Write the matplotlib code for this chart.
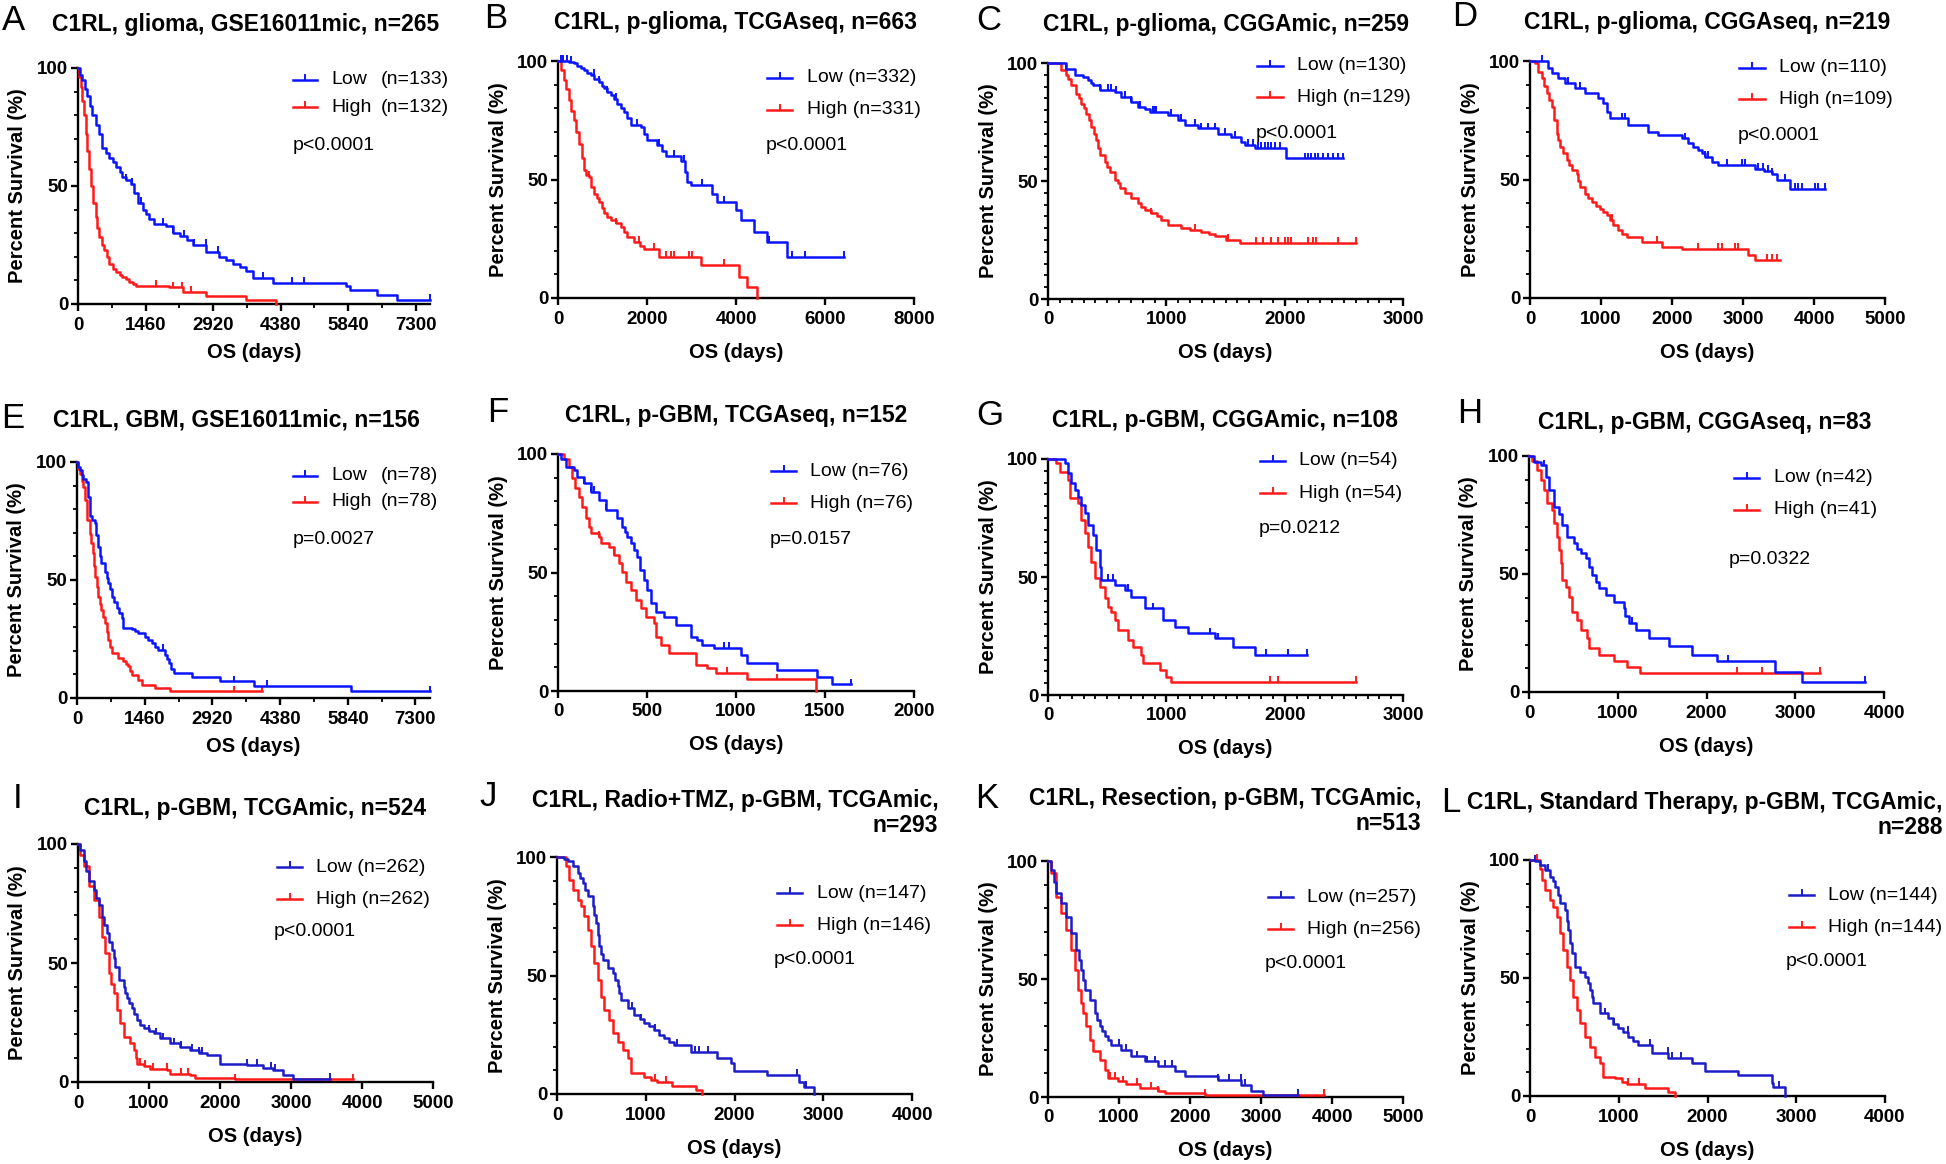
import matplotlib.pyplot as plt
import numpy as np

plt.rcParams['font.family'] = ['Liberation Sans', 'DejaVu Sans']

W, H = 1946, 1164

# ---- Kaplan-Meier curves: (days, percent surviving after that day) ----
a_low = [(0,100),(40,97),(94,95),(150,91),(200,88),(260,84),(311,80),(380,76),(455,72),(528,66),(600,64),(672,62),(750,60),(817,58),(900,56),(962,54),(1034,52.5),(1150,51),(1215,47),(1287,43),(1395,40),(1480,38),(1540,36),(1650,34),(1900,33),(2046,30),(2200,29),(2350,27),(2480,25),(2770,22),(3058,20),(3200,18.5),(3347,17),(3500,15.5),(3637,14),(3781,11),(4215,9),(5800,7.5),(5880,6),(6456,4),(6890,1.7),(7613,1.7)]
a_low_cens = [1034,1178,1360,1829,2046,2299,2516,2769,3022,3998,4634,4887,7613]
a_high = [(0,100),(30,96),(58,92),(95,86),(130,80),(165,72),(202,65),(240,57),(275,50),(330,43),(383,37),(420,32),(455,28.6),(510,25),(564,23),(620,20),(672,17),(750,15),(817,13.7),(900,12.5),(962,11.5),(1030,10.5),(1106,9.5),(1180,8.5),(1251,7.6),(1974,7),(2263,5.2),(2769,3.5),(3637,1.7),(4287,0)]
a_high_cens = [1685,2046,2241,2444]

b_low = [(0,100),(250,99.5),(350,99),(434,98),(520,97),(584,96),(650,95),(734,94),(820,92.5),(921,91),(980,89.5),(1034,88.5),(1100,87),(1183,85.6),(1260,84),(1333,82),(1410,80),(1483,78.6),(1560,76),(1633,73),(1858,72),(1930,69),(2007,66.6),(2232,64.5),(2330,62),(2419,60),(2756,58),(2850,53),(2906,49),(2981,47.6),(3468,44),(3580,40.6),(3992,37),(4104,32.8),(4404,27.9),(4704,23.7),(5153,17.3),(6426,17.3)]
b_low_cens = [60,120,200,300,809,921,1108,1296,1783,2277,2606,2831,3243,3730,4741,5266,5550,6426]
b_high = [(0,100),(60,96),(135,92),(190,88),(247,83.5),(300,79),(360,75),(415,70),(472,65),(530,59),(584,54),(640,52),(697,51),(750,47),(809,44),(870,42),(921,40.6),(980,38),(1034,36),(1110,34),(1183,32.8),(1300,31.5),(1408,30),(1480,28),(1558,25.8),(1708,23.7),(1850,22),(1932,20.8),(2269,17.3),(3206,13.8),(4067,8.9),(4254,4.6),(4464,0)]
b_high_cens = [700,1300,1820,2157,2419,2531,2606,2944,3018,3730]

c_low = [(0,100),(155,97.5),(225,95),(296,94),(338,92.7),(360,91.5),(380,90.6),(437,88.5),(563,87.7),(620,85.6),(704,83.5),(760,81.4),(817,80.7),(859,79.3),(1014,77.9),(1099,75.8),(1155,73.7),(1268,72.3),(1437,70.1),(1549,68.7),(1634,66.6),(1662,65.2),(1747,64),(2014,59.6),(2493,59.6)]
c_low_cens = [155,437,507,535,577,648,704,775,887,901,915,1042,1127,1240,1296,1352,1408,1493,1577,1690,1732,1775,1803,1831,1859,1887,1915,1958,2169,2197,2225,2254,2282,2324,2366,2409,2451,2493]
c_high = [(0,100),(113,97),(150,95),(169,93.4),(197,90.6),(239,87),(260,85),(282,82.8),(300,81),(324,78.6),(345,76),(366,73),(388,70),(408,67.3),(420,64),(437,61),(479,58.2),(500,56),(521,54),(563,50.6),(590,49),(606,47),(650,45),(704,42.8),(760,40.6),(790,39),(817,37.7),(873,36.3),(920,35),(958,33.5),(1014,31.4),(1127,30),(1200,29.3),(1296,28.6),(1360,27.5),(1408,26.5),(1500,25),(1620,23.7),(2606,23.7)]
c_high_cens = [873,1240,1521,1761,1817,1887,1944,2000,2028,2056,2197,2240,2268,2451,2606]

d_low = [(0,100),(258,97),(305,94.8),(399,92.7),(493,90.6),(634,88.5),(775,86.3),(962,84.2),(1033,82.1),(1080,78.6),(1127,75.8),(1385,73),(1667,70.1),(1808,68.7),(2136,67.3),(2230,65.2),(2300,63.8),(2371,62.4),(2420,61),(2465,59.6),(2559,57.5),(2653,56),(3169,54.6),(3300,53.5),(3404,52.5),(3474,49.7),(3662,46.2),(4155,46.2)]
d_low_cens = [164,540,704,1291,1338,2183,2465,2512,2770,2981,3028,3216,3286,3357,3404,3592,3733,3780,3827,4014,4061,4155]
d_high = [(0,100),(70,99),(117,95.5),(164,92.7),(200,89.5),(235,86.3),(270,83.5),(305,80.7),(340,75),(376,69.4),(400,66.5),(423,63.8),(470,61),(516,58.2),(550,56),(587,54),(657,52.5),(680,49.5),(704,46.9),(775,44),(820,42.3),(869,40.6),(930,39),(986,37.7),(1030,36.3),(1080,34.9),(1120,32.8),(1174,30.7),(1244,28.6),(1300,27.2),(1362,25.8),(1573,23.7),(1855,21.5),(2136,20.8),(3075,18),(3169,15.9),(3521,15.9)]
d_high_cens = [1150,1784,2371,2653,2700,2887,2934,3333,3404,3474]

e_low = [(0,100),(30,98),(58,96.5),(100,94.5),(130,93),(202,91.5),(240,85),(275,77),(330,75.4),(383,74),(420,69),(455,64),(490,60),(528,57),(600,53.5),(640,51),(672,48.6),(710,46),(745,43),(800,40.5),(853,38),(900,36),(962,33.8),(998,29.6),(1178,29.2),(1250,28.5),(1323,27.5),(1468,26),(1540,24.5),(1612,23.2),(1690,21.8),(1757,20.4),(1901,18.3),(1940,16.5),(1974,14.8),(2030,12.5),(2082,10.6),(2480,8.9),(3094,7),(3817,5.2),(5914,2.8),(7613,2.8)]
e_low_cens = [1865,3384,4107,7613]
e_high = [(0,100),(30,97),(58,95),(100,92),(130,89.4),(181,83.8),(224,75.4),(275,69.7),(310,65.5),(347,61.3),(370,56),(398,51.4),(430,47),(455,43),(490,40),(528,37.3),(565,34.5),(600,31.7),(640,28),(672,24.6),(710,21.5),(745,19),(889,16.9),(998,15.5),(1050,14.5),(1106,13.4),(1140,11.5),(1178,9.9),(1323,7.7),(1395,5.6),(1685,4.2),(2010,2.8),(3998,2.8)]
e_high_cens = [3384,3998]

f_low = [(0,100),(15,98),(43,94.7),(90,93.2),(109,90.4),(146,87.6),(184,84),(230,80.6),(268,76.4),(333,72.9),(361,69.3),(375,67),(390,65.1),(408,62.3),(427,59.5),(446,56.7),(461,51),(483,46.8),(502,42.6),(521,37),(549,33.5),(596,31.4),(661,27.8),(745,22.9),(783,21.5),(811,19.4),(877,18),(1026,15.2),(1064,11.7),(1232,8.9),(1457,6),(1541,2.8),(1644,2.8)]
f_low_cens = [146,184,202,268,933,961,1644]
f_high = [(0,100),(34,98),(62,94.7),(80,89.7),(94,85.5),(118,82),(137,77.8),(155,72.9),(174,69.3),(184,66.5),(230,65.1),(240,62.3),(287,60.9),(315,57.4),(343,53.9),(361,50.4),(380,46.1),(408,42.6),(436,38.4),(464,34.9),(493,31.4),(539,28.6),(549,22.9),(577,19.4),(624,15.9),(774,11),(839,9.6),(886,7.7),(1064,4.9),(1448,0)]
f_high_cens = [230,315,951,1229]

g_low = [(0,100),(141,98.2),(169,93.9),(197,89.7),(225,86.9),(254,84),(282,80.5),(310,77),(338,72),(380,67.8),(408,61.4),(437,54.4),(451,48.7),(563,46.6),(648,44.5),(704,41.7),(817,36.7),(972,31.8),(1070,29),(1183,26.1),(1408,24),(1563,20.5),(1747,16.9),(2192,16.9)]
g_low_cens = [507,549,676,887,1372,1437,1845,2028,2192]
g_high = [(0,100),(70,98.5),(99,94.6),(169,91),(183,83.3),(254,81.2),(282,74),(310,68.5),(338,62.8),(366,56.5),(394,49.4),(437,45.9),(479,41),(507,37.4),(535,35),(563,31.8),(592,27.5),(676,23.3),(718,20.5),(789,16.9),(803,13.4),(944,10.6),(1000,7.8),(1042,5.6),(2606,5.6)]
g_high_cens = [1873,1944,2606]

h_low = [(0,100),(56,97.5),(131,96),(187,91.1),(225,85.5),(281,78.5),(337,75.6),(375,70.7),(431,65.8),(506,63),(544,60.8),(581,58.7),(637,56.6),(675,53.1),(712,49.6),(750,46.8),(787,43.9),(862,41.1),(956,38.3),(1068,35.5),(1087,32),(1125,29.1),(1200,26.3),(1350,22.8),(1575,19.3),(1837,15.8),(2118,13),(2774,8.3),(3074,4.1),(3787,4.1)]
h_low_cens = [169,1162,2242,3787]
h_high = [(0,100),(37,98),(94,94),(131,89.7),(169,85.5),(206,79.9),(262,77),(281,71.4),(319,65.8),(337,60.1),(356,54.5),(375,47.5),(412,44.6),(450,40.4),(487,34.1),(544,30.6),(581,26.3),(656,22.8),(675,18.6),(787,15.8),(956,13),(1106,10.8),(1256,8),(3280,8)]
h_high_cens = [2343,2624,3280]

i_low = [(0,100),(33,97.6),(80,92.7),(110,88.5),(150,84.3),(220,80.8),(260,77.5),(291,74.4),(337,69.5),(370,66),(408,62.5),(440,59),(478,55.5),(500,52),(525,48.5),(572,42.8),(642,40),(665,37.5),(689,35.1),(720,33),(759,30.9),(790,28.5),(829,26),(870,24),(923,22.5),(1000,21.5),(1064,20.4),(1157,18.3),(1298,16.2),(1439,14.7),(1579,13.3),(1700,12.3),(1813,11.2),(2001,7.7),(2376,7),(2600,6),(2751,4.9),(2891,2.8),(3032,1.4),(3547,1.4)]
i_low_cens = [1000,1100,1200,1350,1450,1600,1700,1750,2376,2520,2720,2780,3547]
i_high = [(0,100),(33,95.5),(80,90.6),(150,82.2),(220,76.5),(291,69.5),(337,61.1),(384,54),(431,45.6),(465,41),(501,37.2),(548,30.2),(595,24.6),(642,19),(736,16.2),(783,13.3),(810,10),(829,7.7),(923,6.6),(1017,5.6),(1251,4.9),(1298,3.5),(1579,2.8),(1650,1.7),(2212,1.1),(3875,1.1)]
i_high_cens = [870,950,1060,1250,1450,1550,2212,3875]

j_low = [(0,100),(82,99),(120,98.2),(176,96),(232,93.2),(260,91),(289,89),(320,86),(345,83.4),(401,79.2),(420,75.5),(439,72.1),(460,67),(476,62.3),(495,59),(514,56.6),(570,53.1),(626,51),(655,48),(682,45.4),(700,42.5),(720,39.7),(795,36.2),(870,33.4),(930,31.5),(982,29.9),(1040,28.5),(1095,27),(1150,25),(1207,23.5),(1260,22),(1320,20.7),(1507,17.9),(1807,15.1),(1957,13),(1994,9.9),(2369,8),(2726,5.2),(2782,3.1),(2894,0)]
j_low_cens = [850,950,1100,1350,1550,1600,1700,2700,2800]
j_high = [(0,100),(101,96),(139,90.4),(176,86.2),(232,82),(270,79.2),(307,74.9),(345,69.3),(382,62.3),(420,55.2),(457,48.2),(495,41.1),(532,35.5),(589,31.3),(626,25.6),(682,22.1),(739,18.6),(795,15.1),(832,8.7),(982,7.3),(1057,5.9),(1132,5.2),(1301,3.4),(1563,1.7),(1638,0)]
j_high_cens = [1100,1230]

k_low = [(0,100),(47,96.2),(80,91),(117,86.3),(188,82.1),(258,76.4),(329,69.4),(399,62.3),(440,58),(470,53.9),(495,49.5),(516,45.4),(587,41.2),(657,35.5),(690,32.5),(728,29.9),(760,27.8),(798,25.7),(840,24),(892,22.1),(1033,20),(1174,17.2),(1362,15.1),(1549,13),(1784,10.9),(1925,8.7),(2394,7.3),(2723,5.2),(2864,2.4),(3028,1),(3521,1)]
k_low_cens = [1000,1100,1250,1400,1500,1650,1750,2394,2550,2720,2780,3521]
k_high = [(0,100),(47,94.8),(117,84.9),(188,77.9),(258,70.8),(329,62.3),(376,53.9),(423,45.4),(460,40),(493,35.5),(540,29.9),(587,24.3),(634,19.3),(728,15.8),(798,11.6),(845,8),(986,6.6),(1103,5.6),(1291,3.8),(1549,2.4),(1643,1.7),(2207,1),(3887,1)]
k_high_cens = [870,950,1050,1250,1450,1550,2207,3887]

l_low = [(0,100),(60,99.5),(113,97.9),(169,95.8),(225,92.9),(255,91),(282,88.7),(310,85),(338,81.6),(394,78.8),(415,74),(432,70.3),(450,65),(470,60.5),(507,54.8),(563,52.7),(620,50.6),(650,48),(676,44.9),(695,42),(714,39.3),(789,35),(883,32.9),(940,30.5),(995,28.7),(1050,27),(1108,25.1),(1160,23.2),(1221,21.6),(1371,18.1),(1559,16),(1822,13.8),(1972,10.7),(2347,8.9),(2723,5.4),(2742,4),(2873,0)]
l_low_cens = [60,200,850,950,1100,1350,1550,1600,1700,2800]
l_high = [(0,100),(113,96),(131,91.5),(169,87.3),(225,83),(263,80.2),(300,76),(338,68.9),(376,61.9),(413,54.8),(451,49.2),(488,42.1),(526,36.4),(563,30.8),(620,25.1),(676,20.9),(732,16.7),(789,13.8),(826,8.2),(958,7.5),(1033,6.1),(1089,5.1),(1296,3.2),(1559,1.8),(1634,0)]
l_high_cens = [80,1100,1230]

# ---- panel text ----
letters = list("ABCDEFGHIJKL")
titles = [
    "C1RL, glioma, GSE16011mic, n=265",
    "C1RL, p-glioma, TCGAseq, n=663",
    "C1RL, p-glioma, CGGAmic, n=259",
    "C1RL, p-glioma, CGGAseq, n=219",
    "C1RL, GBM, GSE16011mic, n=156",
    "C1RL, p-GBM, TCGAseq, n=152",
    "C1RL, p-GBM, CGGAmic, n=108",
    "C1RL, p-GBM, CGGAseq, n=83",
    "C1RL, p-GBM, TCGAmic, n=524",
    "C1RL, Radio+TMZ, p-GBM, TCGAmic,\nn=293",
    "C1RL, Resection, p-GBM, TCGAmic,\nn=513",
    "C1RL, Standard Therapy, p-GBM, TCGAmic,\nn=288",
]
low_n = [133, 332, 130, 110, 78, 76, 54, 42, 262, 147, 257, 144]
high_n = [132, 331, 129, 109, 78, 76, 54, 41, 262, 146, 256, 144]
p_text = ["p<0.0001", "p<0.0001", "p<0.0001", "p<0.0001", "p=0.0027", "p=0.0157",
          "p=0.0212", "p=0.0322", "p<0.0001", "p<0.0001", "p<0.0001", "p<0.0001"]

low_curves = [a_low, b_low, c_low, d_low, e_low, f_low, g_low, h_low, i_low, j_low, k_low, l_low]
low_cens = [a_low_cens, b_low_cens, c_low_cens, d_low_cens, e_low_cens, f_low_cens,
            g_low_cens, h_low_cens, i_low_cens, j_low_cens, k_low_cens, l_low_cens]
high_curves = [a_high, b_high, c_high, d_high, e_high, f_high, g_high, h_high, i_high, j_high, k_high, l_high]
high_cens = [a_high_cens, b_high_cens, c_high_cens, d_high_cens, e_high_cens, f_high_cens,
             g_high_cens, h_high_cens, i_high_cens, j_high_cens, k_high_cens, l_high_cens]

# ---- axes settings ----
xmax = [7613, 8000, 3000, 5000, 7613, 2000, 3000, 4000, 5000, 4000, 5000, 4000]
xstep = [1460, 2000, 1000, 1000, 1460, 500, 1000, 1000, 1000, 1000, 1000, 1000]
xminor = [730, None, 100, None, 730, None, 100, None, None, None, None, None]
yminor = [10, 10, 5, 10, 10, 10, 5, 10, 10, 10, 10, 10]

# layout in pixels: axes box (left, top, right, bottom)
boxes = [(78, 68, 430, 304), (558, 61, 914, 298), (1048, 63, 1403, 299), (1530, 61, 1885, 298),
         (77, 462, 430, 698), (558, 454, 914, 691), (1048, 459, 1403, 695), (1529, 456, 1884, 692),
         (78, 844, 433, 1082), (557, 857, 912, 1094), (1048, 861, 1403, 1097), (1530, 860, 1885, 1096)]
title_pos = [(246, 25), (736, 23), (1226, 25), (1707, 23), (236, 420), (736, 415), (1225, 420),
             (1705, 422), (255, 808), (735, 813), (1225, 811), (1705, 815)]
letter_pos = [(2, 20), (484, 18), (976, 20), (1452, 17), (1, 418), (487, 412), (976, 415),
              (1457, 413), (13, 798), (479, 797), (975, 798), (1441, 803)]
# legend: handle x0, x1, row1 y, row2 y, text x, p x, p y, count x
legends = [(293, 317, 80, 107, 331, 293, 146, 381), (767, 792, 78, 110, 807, 766, 146, None),
           (1257, 1283, 66, 97, 1297, 1256, 133, None), (1739, 1765, 68, 99, 1779, 1738, 136, None),
           (293, 317, 476, 502, 331, 293, 539, 381), (771, 796, 471, 503, 810, 770, 539, None),
           (1260, 1285, 461, 493, 1299, 1259, 529, None), (1734, 1759, 478, 510, 1774, 1729, 559, None),
           (277, 302, 867, 899, 316, 274, 932, None), (777, 802, 893, 925, 817, 774, 960, None),
           (1268, 1293, 897, 929, 1307, 1265, 963, None), (1789, 1814, 895, 927, 1828, 1786, 962, None)]

BLUE = "#0a14ff"
DARK_BLUE = "#1c1cc8"
RED = "#ff1a1a"
blues = [BLUE] * 8 + [DARK_BLUE] * 4


def fx(x):
    return x / W


def fy(y):
    return 1 - y / H


def draw_curve(ax, curve, cens, color):
    t = np.array([p[0] for p in curve], dtype=float)
    s = np.array([p[1] for p in curve], dtype=float)
    ax.step(t, s, where="post", color=color, lw=1.8, clip_on=False, zorder=3)
    ct = np.array(cens, dtype=float)
    cs = s[np.searchsorted(t, ct, side="right") - 1]
    ax.plot(ct, cs + 1.2, ls="none", marker="|", ms=5, mew=1.4, color=color, clip_on=False, zorder=3)


fig = plt.figure(figsize=(W / 100, H / 100), dpi=100)

for i in range(12):
    L, T, R, B = boxes[i]
    ax = fig.add_axes([fx(L), fy(B), (R - L) / W, (B - T) / H])
    draw_curve(ax, high_curves[i], high_cens[i], RED)
    draw_curve(ax, low_curves[i], low_cens[i], blues[i])

    ax.set_xlim(0, xmax[i])
    ax.set_ylim(0, 100)
    ax.set_xticks(np.arange(0, xmax[i] + 1, xstep[i]))
    if xminor[i]:
        ax.set_xticks(np.arange(0, xmax[i] + 1, xminor[i]), minor=True)
    ax.set_yticks([0, 50, 100])
    ax.set_yticks(np.arange(0, 101, yminor[i]), minor=True)
    for sp in ["top", "right"]:
        ax.spines[sp].set_visible(False)
    for sp in ["left", "bottom"]:
        ax.spines[sp].set_linewidth(1.7)
    ax.tick_params(which="major", direction="out", length=5, width=1.7, labelsize=13.5, pad=4)
    ax.tick_params(which="minor", direction="out", length=3, width=1.3)
    ax.tick_params(axis="y", which="major", pad=2)
    for lab in ax.get_xticklabels() + ax.get_yticklabels():
        lab.set_fontweight("bold")

    # axis labels
    fig.text(fx(L - 60), fy((T + B) / 2), "Percent Survival (%)", rotation=90,
             ha="center", va="center", fontsize=14.5, fontweight="bold")
    below = 48 if i in (0, 4) else 54
    fig.text(fx((L + R) / 2), fy(B + below), "OS (days)", ha="center", va="center",
             fontsize=14.5, fontweight="bold")

    # title and panel letter
    tx, ty = title_pos[i]
    fig.text(fx(tx), fy(ty), titles[i], ha="center", va="center", multialignment="right",
             fontsize=16.5, fontweight="bold", linespacing=1.1)
    lx, ly = letter_pos[i]
    fig.text(fx(lx), fy(ly), letters[i], ha="left", va="center", fontsize=25)

    # legend
    hx0, hx1, r1, r2, txt_x, px_, py_, cx = legends[i]
    rows = [(r1, blues[i], "Low", low_n[i]), (r2, RED, "High", high_n[i])]
    for ry, col, name, n in rows:
        ax.plot([fx(hx0), fx(hx1)], [fy(ry), fy(ry)], transform=fig.transFigure,
                color=col, lw=1.8, clip_on=False)
        ax.plot([fx((hx0 + hx1) / 2)] * 2, [fy(ry), fy(ry - 5)], transform=fig.transFigure,
                color=col, lw=1.4, clip_on=False)
        if cx is None:
            fig.text(fx(txt_x), fy(ry), f"{name} (n={n})", ha="left", va="center", fontsize=14)
        else:
            fig.text(fx(txt_x), fy(ry), name, ha="left", va="center", fontsize=14)
            fig.text(fx(cx), fy(ry), f"(n={n})", ha="left", va="center", fontsize=14)
    fig.text(fx(px_), fy(py_), p_text[i], ha="left", va="center", fontsize=14)

fig.savefig("out.png", dpi=100)
